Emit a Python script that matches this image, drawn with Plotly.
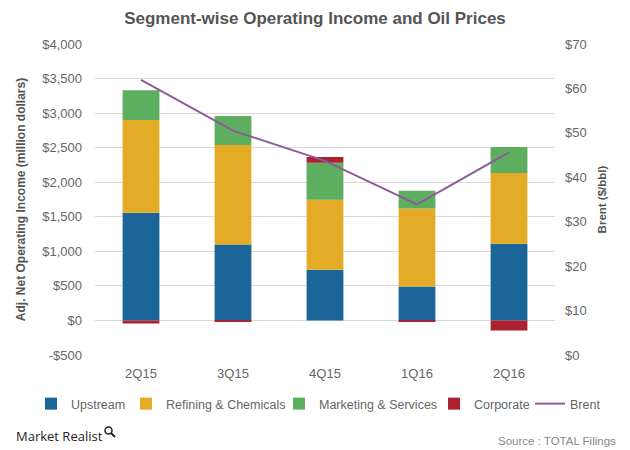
import plotly.graph_objects as go

quarters = ["2Q15", "3Q15", "4Q15", "1Q16", "2Q16"]
upstream = [1560, 1100, 735, 490, 1110]
refining = [1340, 1440, 1010, 1130, 1025]
marketing = [430, 420, 535, 255, 375]
corporate = [-45, -20, 86, -20, -145]
brent = [61.9, 50.5, 43.7, 33.9, 45.6]

left_vals = [-500, 0, 500, 1000, 1500, 2000, 2500, 3000, 3500, 4000]
left_text = ["-$500", "$0", "$500", "$1,000", "$1,500", "$2,000", "$2,500", "$3,000", "$3,500", "$4,000"]
right_vals = [0, 10, 20, 30, 40, 50, 60, 70]
right_text = ["$0", "$10", "$20", "$30", "$40", "$50", "$60", "$70"]

FONT = "Liberation Sans, Arial, sans-serif"

# page has an 8px body margin, so the figure is drawn 8px smaller
W, H = 622, 442
L, R, T, B = 87, 75, 36, 95
PW, PH = W - L - R, H - T - B


def px(x):
    return (x - L) / PW


def py(y):
    return (H - B - y) / PH


fig = go.Figure()
fig.add_trace(go.Bar(x=quarters, y=upstream, name="Upstream", marker_color="#1c6598", legend="legend"))
fig.add_trace(go.Bar(x=quarters, y=refining, name="Refining & Chemicals", marker_color="#e4ac26", legend="legend2"))
fig.add_trace(go.Bar(x=quarters, y=marketing, name="Marketing & Services", marker_color="#5dae5e", legend="legend3"))
fig.add_trace(go.Bar(x=quarters, y=corporate, name="Corporate", marker_color="#ad2230", legend="legend4"))
fig.add_trace(go.Scatter(x=quarters, y=brent, name="Brent", mode="lines",
                         line=dict(color="#8e5a9c", width=2), yaxis="y2", legend="legend5"))

fig.update_traces(marker_line_width=0, selector=dict(type="bar"))

legend_text_x = [72, 167, 320, 475, 571]  # pixel x of each legend text start


def leg(xtext):
    return dict(orientation="h", xref="container", yref="container",
                x=(xtext - 8 - 41) / W, xanchor="left", y=1 - (404 - 8) / H, yanchor="middle",
                font=dict(size=12.5, color="#666666", family=FONT),
                itemwidth=30, bgcolor="rgba(0,0,0,0)")


fig.update_layout(
    width=W, height=H,
    barmode="relative", bargap=0.6,
    paper_bgcolor="white", plot_bgcolor="white",
    margin=dict(l=L, r=R, t=T, b=B, autoexpand=False),
    font=dict(family=FONT, color="#666666", size=13),
    title=dict(text="<b>Segment-wise Operating Income and Oil Prices</b>",
               xref="container", x=(315 - 8) / W, xanchor="center",
               yref="container", y=1 - (18 - 8) / H, yanchor="middle",
               font=dict(size=17, color="#555555", family=FONT)),
    xaxis=dict(showgrid=False, showline=False, ticks="", automargin=False,
               ticklabelstandoff=9, tickfont=dict(size=13, color="#666666")),
    yaxis=dict(range=[-500, 4000], tickvals=left_vals, ticktext=left_text, automargin=False,
               showgrid=True, gridcolor="#d9d9d9", gridwidth=1, zeroline=False,
               tickfont=dict(size=13, color="#666666"), ticks="", ticklen=0,
               ticklabelstandoff=12,
               title=dict(text="<b>Adj. Net Operating Income (million dollars)</b>",
                          font=dict(size=12, color="#555555"), standoff=14)),
    yaxis2=dict(range=[0, 70], tickvals=right_vals, ticktext=right_text, overlaying="y",
                side="right", showgrid=False, zeroline=False, automargin=False,
                tickfont=dict(size=13, color="#666666"), ticklabelstandoff=9,
                title=dict(text="<b>Brent ($/bbl)</b>", font=dict(size=11.5, color="#555555"), standoff=12)),
    legend=leg(legend_text_x[0]),
    legend2=leg(legend_text_x[1]),
    legend3=leg(legend_text_x[2]),
    legend4=leg(legend_text_x[3]),
    legend5=leg(legend_text_x[4]),
    showlegend=True,
)

fig.add_annotation(text="Market Realist", xref="paper", yref="paper",
                   x=px(14 - 8), y=py(436 - 8), xanchor="left", yanchor="middle",
                   showarrow=False, font=dict(size=13, color="#222222", family="Open Sans, sans-serif"))
# small magnifier mark of the logo
fig.add_shape(type="circle", xref="paper", yref="paper",
              x0=px(105 - 8), x1=px(112 - 8), y0=py(434 - 8), y1=py(427 - 8),
              line=dict(color="#222222", width=1.5))
fig.add_shape(type="line", xref="paper", yref="paper",
              x0=px(111 - 8), x1=px(115 - 8), y0=py(433 - 8), y1=py(437 - 8),
              line=dict(color="#222222", width=2))
fig.add_annotation(text="Source : TOTAL Filings", xref="paper", yref="paper",
                   x=px(618 - 8), y=py(441 - 8), xanchor="right", yanchor="middle",
                   showarrow=False, font=dict(size=11.5, color="#888888", family=FONT))

fig.write_html("out.html")
